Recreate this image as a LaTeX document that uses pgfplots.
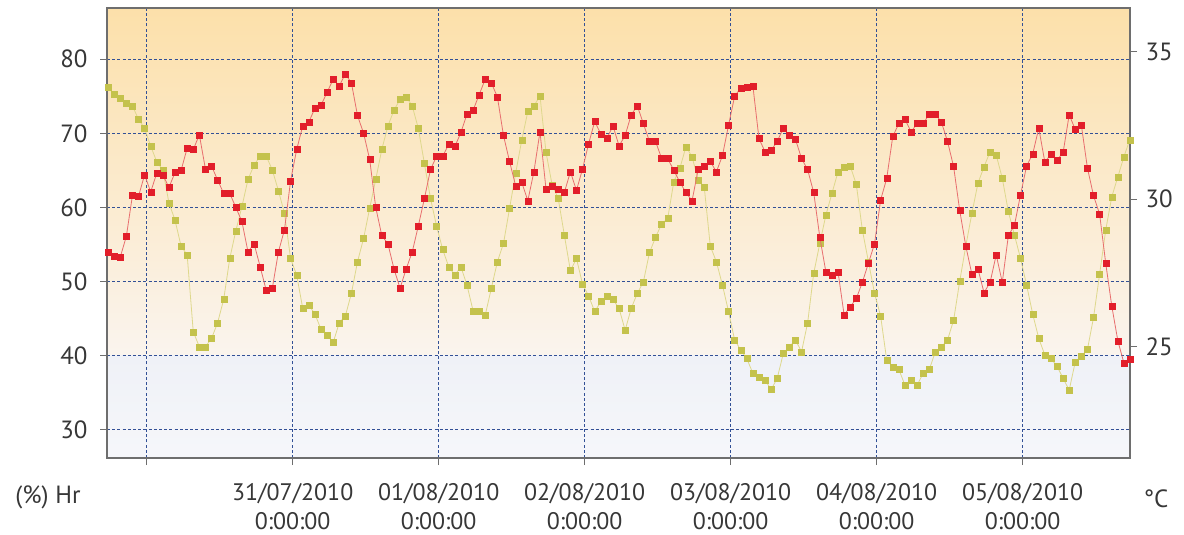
\documentclass[border=0pt]{standalone}
\usepackage{fontspec}
\setmainfont{PT Sans}
\usepackage{pgfplots}
\usepackage{pgfplotstable}
\pgfplotsset{compat=1.18}
\definecolor{gridblue}{RGB}{50,80,150}
\definecolor{framegray}{RGB}{110,110,110}
\definecolor{labgray}{RGB}{55,55,55}
\definecolor{redmark}{RGB}{226,30,42}
\definecolor{redline}{RGB}{232,110,110}
\definecolor{yelmark}{RGB}{196,194,76}
\definecolor{yelline}{RGB}{222,216,140}
\definecolor{bgtop}{RGB}{252,224,170}
\definecolor{bgmid}{RGB}{250,244,238}
\definecolor{bglow}{RGB}{239,241,247}

\pgfplotstableread{
h hr t
-6.35 54.0 33.79
-5.35 53.4 33.55
-4.35 53.3 33.42
-3.35 56.1 33.27
-2.35 61.6 33.16
-1.35 61.5 32.71
-0.35 64.4 32.40
0.65 62.1 31.80
1.65 64.6 31.27
2.65 64.4 30.99
3.65 62.7 29.88
4.65 64.7 29.29
5.65 65.0 28.41
6.65 68.0 28.11
7.65 67.8 25.51
8.65 69.8 25.00
9.65 65.2 25.00
10.65 65.6 25.28
11.65 63.7 25.81
12.65 61.9 26.60
13.65 61.9 27.99
14.65 60.0 28.93
15.65 58.1 29.75
16.65 54.0 30.67
17.65 55.1 31.16
18.65 52.0 31.46
19.65 48.8 31.46
20.65 49.1 30.99
21.65 54.0 30.29
22.65 57.0 29.52
23.65 63.6 27.99
24.65 67.8 27.43
25.65 71.0 26.30
26.65 71.5 26.41
27.65 73.4 26.11
28.65 73.8 25.59
29.65 75.5 25.40
30.65 77.3 25.14
31.65 76.4 25.81
32.65 78.0 26.04
33.65 76.8 26.81
34.65 72.4 27.88
35.65 70.0 28.67
36.65 66.5 29.69
37.65 60.0 30.67
38.65 56.2 31.69
39.65 55.1 32.48
40.65 51.7 33.02
41.65 49.1 33.38
42.65 51.7 33.47
43.65 54.0 33.16
44.65 57.5 32.40
45.65 61.2 31.21
46.65 65.1 30.03
47.65 66.9 29.09
48.65 66.9 28.30
49.65 68.5 27.71
50.65 68.2 27.43
51.65 70.1 27.71
52.65 72.6 27.09
53.65 73.1 26.22
54.65 75.2 26.22
55.65 77.3 26.07
56.65 76.8 26.98
57.65 74.9 27.88
58.65 69.7 28.50
59.65 66.2 29.69
60.65 62.9 30.88
61.65 63.4 32.00
62.65 60.9 32.97
63.65 64.8 33.16
64.65 70.2 33.50
65.65 62.4 31.58
66.65 62.9 30.48
67.65 62.5 30.03
68.65 62.0 28.79
69.65 64.8 27.58
70.65 62.3 27.99
71.65 65.2 27.12
72.65 68.6 26.72
73.65 71.6 26.19
74.65 69.9 26.53
75.65 69.3 26.72
76.65 71.0 26.60
77.65 68.3 26.30
78.65 69.7 25.56
79.65 72.5 26.30
80.65 73.7 26.81
81.65 71.3 27.20
82.65 68.9 28.19
83.65 68.9 28.71
84.65 66.6 29.16
85.65 66.6 29.35
86.65 65.0 30.59
87.65 63.4 31.05
88.65 62.0 31.78
89.65 60.9 31.44
90.65 65.1 30.65
91.65 65.6 30.42
92.65 66.2 28.41
93.65 64.8 27.88
94.65 67.0 27.09
95.65 71.1 26.19
96.65 75.0 25.23
97.65 76.1 24.89
98.65 76.2 24.60
99.65 76.4 24.10
100.65 69.3 23.98
101.65 67.5 23.87
102.65 67.7 23.55
103.65 68.9 23.93
104.65 70.7 24.77
105.65 69.7 25.00
106.65 69.2 25.23
107.65 66.6 24.83
108.65 65.1 25.81
109.65 62.0 27.49
110.65 56.0 28.50
111.65 51.3 29.46
112.65 50.9 30.20
113.65 51.3 30.93
114.65 45.5 31.10
115.65 46.6 31.12
116.65 47.7 30.51
117.65 49.9 28.95
118.65 52.5 27.88
119.65 55.1 26.81
120.65 61.0 26.04
121.65 63.9 24.55
122.65 69.6 24.32
123.65 71.3 24.23
124.65 71.9 23.70
125.65 70.2 23.87
126.65 71.3 23.70
127.65 71.3 24.10
128.65 72.6 24.23
129.65 72.6 24.83
130.65 71.5 25.00
131.65 68.9 25.23
132.65 65.5 25.90
133.65 59.6 27.22
134.65 54.8 28.41
135.65 51.0 29.52
136.65 51.7 30.54
137.65 48.5 31.10
138.65 49.9 31.61
139.65 53.6 31.50
140.65 49.9 30.71
141.65 56.2 29.58
142.65 57.6 28.79
143.65 61.7 27.99
144.65 65.6 27.09
145.65 67.2 26.11
146.65 70.7 25.28
147.65 66.1 24.72
148.65 67.2 24.60
149.65 66.4 24.34
150.65 67.4 23.93
151.65 72.5 23.53
152.65 70.5 24.49
153.65 71.1 24.68
154.65 65.3 24.91
155.65 61.6 25.99
156.65 59.1 27.46
157.65 52.5 28.95
158.65 46.7 30.08
159.65 42.0 30.76
160.65 39.0 31.44
161.60 39.5 32.01
}\datatab

\pgfplotsset{
  base/.style={
    at={(107bp,77bp)}, anchor=south west,
    width=1023bp, height=450bp, scale only axis,
    xmin=-6.53, xmax=161.65,
    /pgf/number format/assume math mode=true,
    ticklabel style={font=\fontsize{25}{30}\selectfont, text=labgray},
    tick align=outside,
    major tick length=7bp,
    tick style={color=framegray, line width=1bp},
  }
}

\begin{document}
\begin{tikzpicture}
\useasboundingbox (0,0) rectangle (1184bp,535bp);
\shade[top color=bgtop, bottom color=bgmid] (107bp,179.3bp) rectangle (1130bp,527bp);
\shade[top color=bglow, bottom color=bglow!60!white] (107bp,77bp) rectangle (1130bp,179.3bp);

\begin{axis}[base,
  ymin=26.2, ymax=86.9,
  ytick={30,40,50,60,70,80},
  xtick={0,24,48,72,96,120,144},
  xticklabels={,{31/07/2010\\0:00:00},{01/08/2010\\0:00:00},{02/08/2010\\0:00:00},{03/08/2010\\0:00:00},{04/08/2010\\0:00:00},{05/08/2010\\0:00:00}},
  xticklabel style={align=center, yshift=-15bp, font=\fontsize{24}{29}\selectfont},
  yticklabel style={xshift=-9bp},
  xtick pos=bottom, ytick pos=left,
  grid=major,
  major grid style={color=gridblue, line width=1.1bp, dash pattern=on 3bp off 2.2bp},
  axis line style={color=framegray, line width=1.5bp},
]
\end{axis}

\begin{axis}[base,
  ymin=21.23, ymax=36.48,
  hide x axis,
  axis y line*=right,
  ytick={25,30,35},
  yticklabel style={xshift=5bp},
  axis line style={color=framegray, line width=1.5bp},
]
\addplot[color=yelline, line width=0.8bp, mark=square*, mark size=3bp,
  mark options={fill=yelmark, draw=yelmark, line width=0.3bp}] table[x=h, y=t] {\datatab};
\end{axis}

\begin{axis}[base,
  ymin=26.2, ymax=86.9,
  hide axis,
]
\addplot[color=redline, line width=0.8bp, mark=square*, mark size=3bp,
  mark options={fill=redmark, draw=redmark, line width=0.3bp}] table[x=h, y=hr] {\datatab};
\end{axis}

\node[font=\fontsize{25}{30}\selectfont, text=labgray] at (48bp,38bp) {(\%) Hr};
\node[font=\fontsize{25}{30}\selectfont, text=labgray] at (1156bp,36bp) {°C};
\end{tikzpicture}
\end{document}
